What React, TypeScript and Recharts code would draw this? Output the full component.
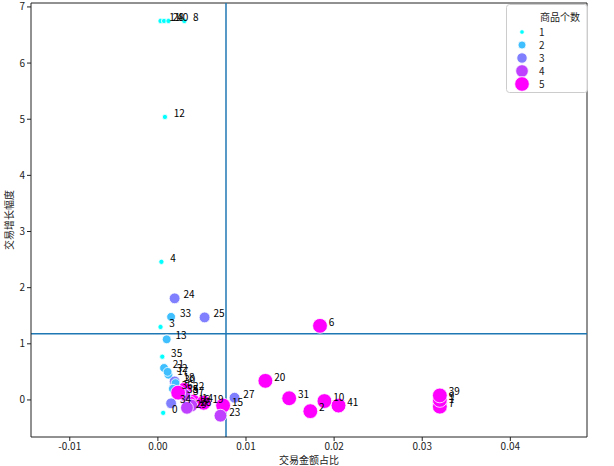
import React from 'react';
import { ScatterChart, Scatter, XAxis, YAxis, ReferenceLine } from 'recharts';

// 交易金额占比 vs 交易增长幅度, hue/size = 商品个数
const ids = [
  0, 1, 2, 3, 4, 5, 6, 7, 8, 9, 10, 11, 12, 13, 14, 15, 16, 17, 18, 19, 20,
  21, 22, 23, 24, 25, 26, 27, 28, 29, 30, 31, 32, 33, 34, 35, 36, 37, 38, 39, 40, 41,
];
const shares = [
  0.0006, 0.032, 0.0173, 0.0003, 0.0004, 0.003, 0.0184, 0.032, 0.003, 0.032, 0.0189,
  0.0003, 0.0008, 0.001, 0.004, 0.0074, 0.0036, 0.0012, 0.0019, 0.0052, 0.0122,
  0.0007, 0.003, 0.0071, 0.0019, 0.0053, 0.0038, 0.0087, 0.0007, 0.0033, 0.002,
  0.0149, 0.0011, 0.0015, 0.0015, 0.0005, 0.0017, 0.003, 0.0023, 0.032, 0.0012, 0.0205,
];
const growth = [
  -0.23, -0.05, -0.2, 1.3, 2.46, 0.13, 1.32, -0.12, 6.75, 0.0, -0.02,
  6.75, 5.04, 1.08, -0.03, -0.1, -0.06, 0.45, 0.33, -0.05, 0.34,
  0.57, 0.18, -0.28, 1.81, 1.47, -0.1, 0.04, 6.75, -0.14, 0.3,
  0.03, 0.5, 1.48, -0.06, 0.77, 0.2, 0.09, 0.13, 0.08, 6.75, -0.1,
];
const counts = [
  1, 5, 5, 1, 1, 5, 5, 5, 1, 5, 5,
  1, 1, 2, 5, 5, 5, 2, 3, 5, 5,
  2, 5, 4, 3, 3, 4, 3, 1, 4, 2,
  5, 2, 2, 3, 1, 2, 4, 5, 5, 1, 5,
];
const levels = [1, 2, 3, 4, 5];
const xTicks = [-0.01, 0, 0.01, 0.02, 0.03, 0.04];
const yTicks = [0, 1, 2, 3, 4, 5, 6, 7];
const shareLine = 0.00773;
const growthLine = 1.18;

const COLORS = ['#00ffff', '#40bfff', '#8080ff', '#bf40ff', '#ff00ff'];
const RADII = [2.6, 4.4, 5.4, 6.4, 7.4];
const LEGEND_R = [2.3, 4, 5.2, 6.3, 7.3];
const X_DOMAIN: [number, number] = [-0.0144, 0.0487];
const Y_DOMAIN: [number, number] = [-0.66, 7.07];
const FONT = '"Noto Sans CJK SC", "DejaVu Sans", sans-serif';

const points = ids.map((id, i) => ({ id, share: shares[i], growth: growth[i], count: counts[i] }));

const Dot = (props: any) => {
  const { cx, cy, payload } = props;
  const k = payload.count - 1;
  return <circle cx={cx} cy={cy} r={RADII[k]} fill={COLORS[k]} stroke="#ffffff" strokeWidth={0.8} />;
};

const Tag = (props: any) => {
  const { cx, cy, payload } = props;
  return (
    <text x={cx + 8.8} y={cy} fontSize={10} fill="#000" fontFamily={FONT}>
      {payload.id}
    </text>
  );
};

const tickStyle = { fill: '#222', fontSize: 10, fontFamily: FONT };

export default function App() {
  return (
    <div style={{ position: 'absolute', left: 0, top: 0, width: 614, height: 466, background: '#fff' }}>
      <ScatterChart width={614} height={466} margin={{ top: 3, right: 27, bottom: 0, left: 0 }}>
        <XAxis
          type="number"
          dataKey="share"
          domain={X_DOMAIN}
          ticks={xTicks}
          allowDataOverflow
          tickFormatter={(v: number) => v.toFixed(2)}
          tick={tickStyle}
          tickSize={4}
          height={29}
          stroke="#222"
          label={{ value: '交易金额占比', position: 'insideBottom', offset: 2, fontSize: 10, fill: '#222', fontFamily: FONT }}
        />
        <YAxis
          type="number"
          dataKey="growth"
          domain={Y_DOMAIN}
          ticks={yTicks}
          allowDataOverflow
          tick={tickStyle}
          tickSize={4}
          width={31}
          stroke="#222"
          label={{
            value: '交易增长幅度',
            angle: -90,
            position: 'insideLeft',
            offset: 9,
            fontSize: 10,
            fill: '#222',
            fontFamily: FONT,
            style: { textAnchor: 'middle' },
          }}
        />
        <ReferenceLine x={X_DOMAIN[1]} stroke="#222" />
        <ReferenceLine y={Y_DOMAIN[1]} stroke="#222" />
        <Scatter data={points} shape={Dot} isAnimationActive={false} />
        <Scatter data={points} shape={Tag} isAnimationActive={false} />
        <ReferenceLine x={shareLine} stroke="#1f77b4" strokeWidth={1.5} />
        <ReferenceLine y={growthLine} stroke="#1f77b4" strokeWidth={1.5} />
      </ScatterChart>
      <svg
        width={82}
        height={89}
        style={{ position: 'absolute', left: 506, top: 4 }}
      >
        <rect x={0.5} y={0.5} width={81} height={88} rx={3} fill="#fff" fillOpacity={0.8} stroke="#cccccc" />
        <text x={34} y={17} fontSize={10} fill="#222" fontFamily={FONT}>
          商品个数
        </text>
        {levels.map((lv, i) => (
          <g key={lv}>
            <circle cx={16} cy={28 + i * 13} r={LEGEND_R[i]} fill={COLORS[i]} stroke="#fff" strokeWidth={0.8} />
            <text x={33} y={32 + i * 13} fontSize={10} fill="#222" fontFamily={FONT}>
              {lv}
            </text>
          </g>
        ))}
      </svg>
    </div>
  );
}
